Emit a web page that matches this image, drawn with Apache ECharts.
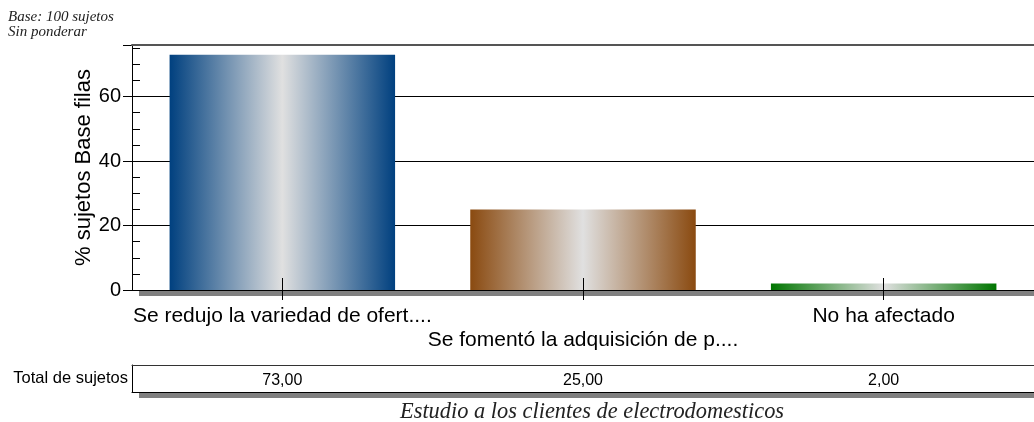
<!DOCTYPE html>
<html>
<head>
<meta charset="utf-8">
<script src="https://cdn.jsdelivr.net/npm/echarts@6/dist/echarts.min.js"></script>
<style>
  html, body { margin: 0; padding: 0; background: #fff; }
  #chart { width: 1034px; height: 422px; }
</style>
</head>
<body>
<div id="chart"></div>
<script>
const categories = ['Se redujo la variedad de ofert....', 'Se fomentó la adquisición de p....', 'No ha afectado']
const percents = [73, 25, 2]
const totals = [73, 25, 2]
const barColors = ['#00407f', '#8a4a10', '#007500']
const yTicks = [0, 20, 40, 60]

const sans = 'Liberation Sans, Arial, sans-serif'
const serif = 'Liberation Serif, Times New Roman, serif'

const gradient = c => new echarts.graphic.LinearGradient(0, 0, 1, 0, [
  { offset: 0, color: c },
  { offset: 0.5, color: '#e0e0e0' },
  { offset: 1, color: c }
])

const myChart = echarts.init(document.getElementById('chart'))

const option = {
  backgroundColor: '#fff',
  animation: false,
  title: [
    {
      text: 'Base: 100 sujetos\nSin ponderar',
      left: 3, top: 5,
      textStyle: { fontFamily: serif, fontStyle: 'italic', fontWeight: 'normal', fontSize: 15, lineHeight: 15, color: '#222' }
    },
    {
      text: 'Estudio a los clientes de electrodomesticos',
      left: 395, top: 396,
      textStyle: { fontFamily: serif, fontStyle: 'italic', fontWeight: 'normal', fontSize: 22.4, color: '#222' }
    }
  ],
  grid: [
    {
      left: 132, right: -1, top: 45, bottom: 132,
      show: true, backgroundColor: '#fff', borderWidth: 0,
      shadowColor: '#808080', shadowOffsetX: 7, shadowOffsetY: 6, shadowBlur: 0
    },
    {
      left: 132, right: -1, top: 365, height: 27,
      show: true, backgroundColor: '#fff', borderWidth: 0,
      shadowColor: '#808080', shadowOffsetX: 7, shadowOffsetY: 6, shadowBlur: 0
    }
  ],
  xAxis: [
    {
      type: 'category', gridIndex: 0, position: 'bottom', data: categories, z: 5,
      axisLine: { lineStyle: { color: '#000', width: 1 } },
      axisTick: { show: true, alignWithLabel: true, length: 10, lineStyle: { color: '#000' } },
      axisLabel: {
        interval: 0, color: '#000', fontFamily: sans, fontSize: 21, lineHeight: 24, margin: 14,
        formatter: (v, i) => (i % 2 ? '\n' + v : v)
      }
    },
    {
      type: 'category', gridIndex: 0, position: 'bottom', data: categories, z: 5,
      axisLine: { show: false },
      axisTick: { show: true, alignWithLabel: true, inside: true, length: 12, lineStyle: { color: '#000' } },
      axisLabel: { show: false }
    },
    {
      type: 'category', gridIndex: 0, position: 'top', data: categories, z: 5,
      axisLine: { lineStyle: { color: '#555', width: 2 } },
      axisTick: { show: false },
      axisLabel: { show: false }
    },
    {
      type: 'category', gridIndex: 1, position: 'bottom',
      data: totals.map(v => v.toFixed(2).replace('.', ',')),
      axisLine: { lineStyle: { color: '#000', width: 1 } },
      axisTick: { show: false },
      axisLabel: { inside: true, margin: 3, color: '#000', fontFamily: sans, fontSize: 16 }
    },
    {
      type: 'category', gridIndex: 1, position: 'top', data: categories,
      axisLine: { lineStyle: { color: '#333', width: 1 } },
      axisTick: { show: false },
      axisLabel: { show: false }
    }
  ],
  yAxis: [
    {
      type: 'value', gridIndex: 0, position: 'left', min: 0, max: 76, interval: 20,
      name: '% sujetos Base filas', nameLocation: 'middle', nameGap: 37, nameMoveOverlap: false,
      nameTextStyle: { color: '#000', fontFamily: sans, fontSize: 22 },
      axisLine: { show: true, lineStyle: { color: '#000' } },
      axisTick: { show: true, length: 9, lineStyle: { color: '#000' } },
      axisLabel: {
        color: '#000', fontFamily: sans, fontSize: 20, margin: 11,
        formatter: v => (yTicks.includes(v) ? String(v) : '')
      },
      splitLine: { show: true, lineStyle: { color: '#000', width: 1 } }
    },
    {
      type: 'value', gridIndex: 0, position: 'left', min: 0, max: 76, interval: 5,
      axisLine: { show: false },
      axisTick: { show: true, inside: true, length: 8, lineStyle: { color: '#000' } },
      axisLabel: { show: false },
      splitLine: { show: false }
    },
    {
      type: 'category', gridIndex: 1, data: ['Total de sujetos'],
      axisLine: { show: true, lineStyle: { color: '#000' } },
      axisTick: { show: false },
      axisLabel: { margin: 4, color: '#000', fontFamily: sans, fontSize: 16.5 }
    }
  ],
  series: [
    {
      type: 'bar',
      xAxisIndex: 0, yAxisIndex: 0,
      barWidth: '75%',
      data: percents.map((v, i) => ({ value: v, itemStyle: { color: gradient(barColors[i]) } }))
    }
  ]
}

myChart.setOption(option)
</script>
</body>
</html>
